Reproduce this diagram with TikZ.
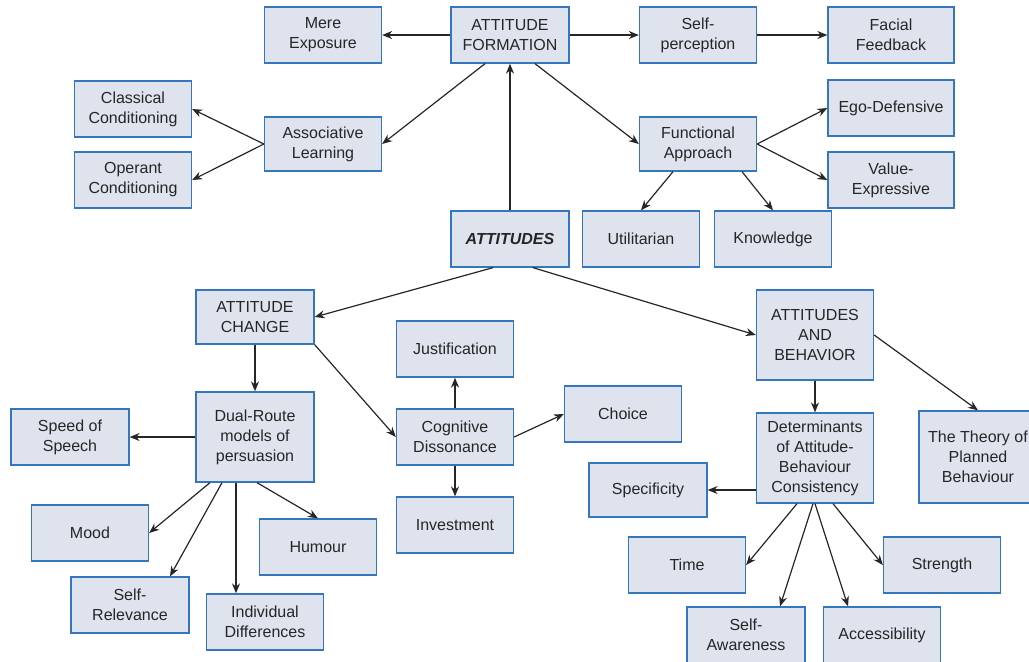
\documentclass[tikz,border=0pt]{standalone}
\usepackage{fontspec}
\setmainfont{Liberation Sans}
\usepackage{xcolor}
\usepackage{tikz}
\usetikzlibrary{arrows.meta,calc}

\definecolor{boxfill}{HTML}{DFE3EE}
\definecolor{boxline}{HTML}{3477BD}
\definecolor{inkgrey}{HTML}{262626}

\begin{document}
\begin{tikzpicture}[x=0.5pt, y=-0.5pt,
    box/.style={draw=boxline, fill=boxfill, line width=0.65pt, text=inkgrey,
      align=center, inner sep=1pt, minimum width=58.5pt, minimum height=28pt,
      font=\fontsize{8}{10}\selectfont},
    tallbox/.style={box, minimum height=45pt},
    arr/.style={-{Stealth[length=5pt, width=4pt]}, draw=inkgrey, line width=0.6pt}]
    \useasboundingbox (0,0) rectangle (1029,661);
    \clip (0,0) rectangle (1029,661);

    \coordinate (MERE) at (323, 35);
    \coordinate (FORM) at (510, 35);
    \coordinate (SELFP) at (698, 35);
    \coordinate (FACIAL) at (891, 35);

    \coordinate (CLASS) at (133, 109);
    \coordinate (ASSOC) at (323, 144);
    \coordinate (OPER) at (133, 180);
    \coordinate (FUNC) at (698, 144);
    \coordinate (EGO) at (891, 108);
    \coordinate (VALUE) at (891, 180);

    \coordinate (ATTS) at (510, 239);
    \coordinate (UTIL) at (641, 239);
    \coordinate (KNOW) at (773, 239);

    \coordinate (CHANGE) at (255, 317);
    \coordinate (JUST) at (455, 349);
    \coordinate (COGN) at (455, 437);
    \coordinate (CHOICE) at (623, 414);
    \coordinate (INVEST) at (455, 525);
    \coordinate (BEHAV) at (815, 335);

    \coordinate (SPEED) at (70, 437);
    \coordinate (DUAL) at (255, 437);
    \coordinate (MOOD) at (90, 533);
    \coordinate (HUMOUR) at (318, 547);
    \coordinate (SELFREL) at (130, 605);
    \coordinate (INDIV) at (265, 622);

    \coordinate (DETERM) at (815, 458);
    \coordinate (THEORY) at (978, 457);
    \coordinate (SPECIF) at (648, 490);
    \coordinate (TIME) at (687, 565);
    \coordinate (STRENGTH) at (942, 565);
    \coordinate (SELFAW) at (746, 635);
    \coordinate (ACCESS) at (882, 635);

    \node [box] (mere) at (MERE) {Mere\\Exposure};
    \node [box, minimum width=59pt] (form) at (FORM) {ATTITUDE\\FORMATION};
    \node [box] (selfp) at (SELFP) {Self-\\perception};
    \node [box, minimum width=63pt] (facial) at (FACIAL) {Facial\\Feedback};

    \node [box] (class) at (CLASS) {Classical\\Conditioning};
    \node [box, minimum height=27pt] (assoc) at (ASSOC) {Associative\\Learning};
    \node [box] (oper) at (OPER) {Operant\\Conditioning};
    \node [box, minimum height=27pt] (func) at (FUNC) {Functional\\Approach};
    \node [box, minimum width=63pt] (ego) at (EGO) {Ego-Defensive};
    \node [box, minimum width=63pt] (value) at (VALUE) {Value-\\Expressive};

    \node [box, minimum width=59pt, font=\fontsize{8}{10}\selectfont\bfseries\itshape] (atts) at (ATTS) {ATTITUDES};
    \node [box] (util) at (UTIL) {Utilitarian};
    \node [box] (know) at (KNOW) {Knowledge};

    \node [box, minimum width=59pt, minimum height=27pt] (change) at (CHANGE) {ATTITUDE\\CHANGE};
    \node [box] (just) at (JUST) {Justification};
    \node [box] (cogn) at (COGN) {Cognitive\\Dissonance};
    \node [box] (choice) at (CHOICE) {Choice};
    \node [box] (invest) at (INVEST) {Investment};
    \node [tallbox] (behav) at (BEHAV) {ATTITUDES\\AND\\BEHAVIOR};

    \node [box, minimum width=59pt] (speed) at (SPEED) {Speed of\\Speech};
    \node [tallbox, minimum width=59pt] (dual) at (DUAL) {Dual-Route\\models of\\persuasion};
    \node [box] (mood) at (MOOD) {Mood};
    \node [box] (humour) at (HUMOUR) {Humour};
    \node [box, minimum width=59pt] (selfrel) at (SELFREL) {Self-\\Relevance};
    \node [box] (indiv) at (INDIV) {Individual\\Differences};

    \node [tallbox] (determ) at (DETERM) {Determinants\\of Attitude-\\Behaviour\\Consistency};
    \node [tallbox, minimum width=59pt, minimum height=46pt] (theory) at (THEORY) {The Theory of\\Planned\\Behaviour};
    \node [box, minimum width=59pt, minimum height=27pt] (specif) at (SPECIF) {Specificity};
    \node [box] (time) at (TIME) {Time};
    \node [box] (strength) at (STRENGTH) {Strength};
    \node [box, minimum width=59pt] (selfaw) at (SELFAW) {Self-\\Awareness};
    \node [box] (access) at (ACCESS) {Accessibility};

    % formation
    \draw [arr] (form) to (mere);
    \draw [arr] (form) to (selfp);
    \draw [arr] (selfp) to (facial);
    \draw [arr] ($(form.south)+(-25,0)$) to (assoc.east);
    \draw [arr] ($(form.south)+(25,0)$) to (func.west);
    \draw [arr] (atts) to (form);

    \draw [arr] (assoc.west) to (class.east);
    \draw [arr] (assoc.west) to (oper.east);
    \draw [arr] (func.east) to (ego.west);
    \draw [arr] (func.east) to (value.west);
    \draw [arr] ($(func.south)+(-25,0)$) to (util.north);
    \draw [arr] ($(func.south)+(44,0)$) to (know.north);

    % change and behaviour
    \draw [arr] ($(atts.south)+(-17,0)$) to (change.east);
    \draw [arr] ($(atts.south)+(23,0)$) to (behav.west);

    \draw [arr] (change) to (dual);
    \draw [arr] (change.south east) to (cogn.west);
    \draw [arr] (cogn) to (just);
    \draw [arr] (cogn.east) to (choice.west);
    \draw [arr] (cogn) to (invest);

    \draw [arr] (dual) to (speed);
    \draw [arr] ($(dual.south)+(-45,0)$) to (mood.east);
    \draw [arr] ($(dual.south)+(-33,0)$) to ($(selfrel.north)+(40,0)$);
    \draw [arr] ($(dual.south)+(-19,0)$) to ($(indiv.north)+(-29,0)$);
    \draw [arr] ($(dual.south)+(2,0)$) to (humour.north);

    \draw [arr] (behav) to (determ);
    \draw [arr] (behav.east) to (theory.north);
    \draw [arr] ($(determ.west)+(0,32)$) to (specif.east);
    \draw [arr] ($(determ.south)+(-18,0)$) to (time.east);
    \draw [arr] ($(determ.south)+(-2,0)$) to ($(selfaw.north)+(34,0)$);
    \draw [arr] ($(determ.south)+(0,0)$) to ($(access.north)+(-34,0)$);
    \draw [arr] ($(determ.south)+(18,0)$) to (strength.west);
  \end{tikzpicture}
\end{document}
